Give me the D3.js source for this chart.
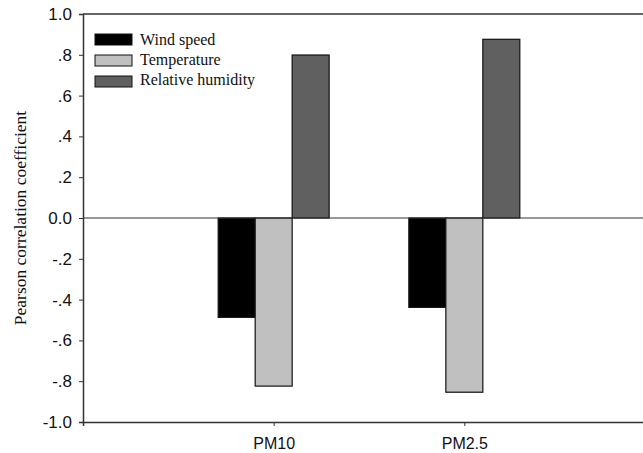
<!DOCTYPE html>
<html>
<head>
<meta charset="utf-8">
<script src="https://cdn.jsdelivr.net/npm/d3@7"></script>
<style>
  body { margin: 0; background: #fff; }
  .tick text { font-family: "Liberation Sans", Arial, sans-serif; }
</style>
</head>
<body>
<div id="grafiek"></div>
<script>
// data
var categorieen = ["PM10", "PM2.5"];
var reeksen = ["Wind speed", "Temperature", "Relative humidity"];
var windsnelheid = [-0.487, -0.438];
var temperatuur = [-0.824, -0.854];
var luchtvochtigheid = [0.799, 0.876];
var yTicks = [-1.0, -0.8, -0.6, -0.4, -0.2, 0.0, 0.2, 0.4, 0.6, 0.8, 1.0];

var breedte = 643, hoogte = 453;
var marge = {boven: 14, beneden: 31, links: 83};

var kleur = d3.scaleOrdinal()
              .domain(reeksen)
              .range(["#000000", "#c0c0c0", "#606060"]);

var svg = d3.select("#grafiek")
            .append("svg")
            .attr("width", breedte)
            .attr("height", hoogte);

// schalen
var x = d3.scaleLinear().domain([0, 3]).range([marge.links, 655]);
var y = d3.scaleLinear().domain([-1, 1]).range([hoogte - marge.beneden, marge.boven]);
var balk = 0.194;

var data = [];
categorieen.forEach(function(c, i) {
  [windsnelheid, temperatuur, luchtvochtigheid].forEach(function(r, j) {
    data.push({cat: c, pos: i + 1, reeks: reeksen[j], idx: j, waarde: r[i]});
  });
});

// kader boven
svg.append("line")
   .attr("x1", x(0)).attr("x2", breedte)
   .attr("y1", y(1)).attr("y2", y(1))
   .attr("stroke", "#333").attr("stroke-width", 1.5);

// balken
svg.selectAll(".balk")
   .data(data)
   .enter()
   .append("rect")
   .attr("class", "balk")
   .attr("x", function(d) { return x(d.pos + (d.idx - 1.5) * balk); })
   .attr("width", x(balk) - x(0))
   .attr("y", function(d) { return y(Math.max(0, d.waarde)); })
   .attr("height", function(d) { return Math.abs(y(d.waarde) - y(0)); })
   .attr("fill", function(d) { return kleur(d.reeks); })
   .attr("stroke", "#111")
   .attr("stroke-width", 1.2);

// nul-lijn
svg.append("line")
   .attr("x1", x(0)).attr("x2", breedte)
   .attr("y1", y(0)).attr("y2", y(0))
   .attr("stroke", "#333").attr("stroke-width", 1.2);

// y-as
var yAs = svg.append("g")
   .attr("transform", "translate(" + x(0) + ",0)")
   .call(d3.axisLeft(y).tickValues(yTicks).tickSize(4).tickPadding(7)
     .tickFormat(function(d) {
       var s = d3.format(".1f")(d).replace("\u2212", "-");
       if (d === 0 || Math.abs(d) === 1) return s;
       return s.replace("0.", ".");
     }));
yAs.select(".domain").attr("stroke", "#333").attr("stroke-width", 1.5);
yAs.selectAll(".tick line").attr("stroke", "#333");
yAs.selectAll(".tick text").attr("font-size", 17).attr("fill", "#111");

// x-as
var xAs = svg.append("g")
   .attr("transform", "translate(0," + y(-1) + ")")
   .call(d3.axisBottom(x).tickValues([1, 2]).tickSize(4).tickPadding(12)
     .tickFormat(function(d) { return categorieen[d - 1]; }));
xAs.select(".domain").attr("stroke", "#333").attr("stroke-width", 1.5);
xAs.selectAll(".tick line").attr("stroke", "#333");
xAs.selectAll(".tick text").attr("font-size", 16).attr("fill", "#111");

// as-titel
svg.append("text")
   .attr("transform", "translate(26," + y(0) + ") rotate(-90)")
   .attr("text-anchor", "middle")
   .attr("font-family", "Liberation Serif, Times New Roman, serif")
   .attr("font-size", 17.5)
   .attr("fill", "#111")
   .text("Pearson correlation coefficient");

// legenda
var legenda = svg.append("g").attr("class", "legend");

legenda.selectAll("rect")
       .data(reeksen)
       .enter().append("rect")
       .attr("x", 95)
       .attr("y", function(d, i) { return 34 + i * 21; })
       .attr("width", 37)
       .attr("height", 11)
       .attr("fill", kleur)
       .attr("stroke", "#111")
       .attr("stroke-width", 1);

legenda.selectAll("text")
       .data(reeksen)
       .enter().append("text")
       .attr("x", 140)
       .attr("y", function(d, i) { return 45 + i * 20; })
       .attr("font-family", "Liberation Serif, Times New Roman, serif")
       .attr("font-size", 16)
       .attr("fill", "#111")
       .text(function(d) { return d; });
</script>
</body>
</html>
